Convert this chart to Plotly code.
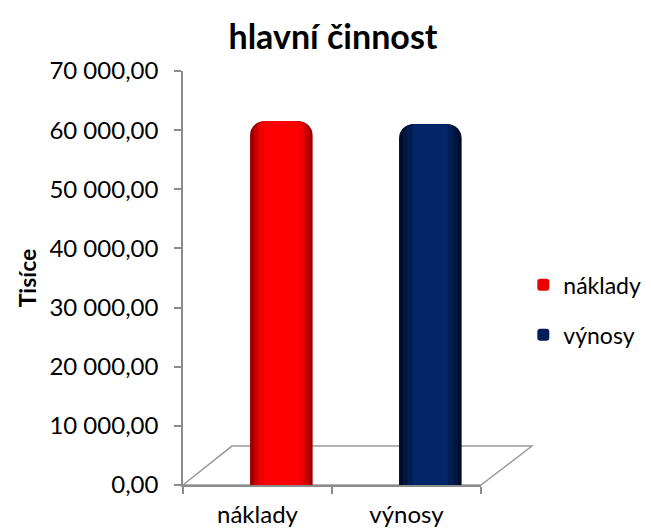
import plotly.graph_objects as go

categories = ["náklady", "výnosy"]
series_names = ["náklady", "výnosy"]
values = [61500, 61000]
y_ticks = [0, 10000, 20000, 30000, 40000, 50000, 60000, 70000]

# shading steps (outer -> inner) to imitate the cylinder look
red_shades = ["#9a0000", "#c80000", "#ec0000", "#ff0000"]
blue_shades = ["#000c2c", "#00163f", "#001d55", "#032669"]
shades = [red_shades, blue_shades]
width_fracs = [1.0, 0.88, 0.74, 0.56]

BAR_W = 0.42
BAR_OFF = -0.05
RADIUS = 14

fig = go.Figure()
for i, name in enumerate(series_names):
    for k, frac in enumerate(width_fracs):
        w = BAR_W * frac
        inset = (BAR_W - w) / 2
        fig.add_trace(go.Bar(
            x=[categories[i]], y=[values[i]], name=name,
            width=w, offset=BAR_OFF + inset,
            marker=dict(color=shades[i][k], line=dict(width=0),
                        cornerradius=max(RADIUS - int(inset * 149), 2)),
            showlegend=(k == 2), legendgroup=name,
            hovertemplate="%{x}: %{y:,.2f}<extra></extra>",
        ))

# page body has an 8px margin; figure is sized to the visible part of the window
fig.update_layout(
    width=643, height=523,
    margin=dict(l=175, r=170, t=63, b=46, autoexpand=False),
    paper_bgcolor="white", plot_bgcolor="white",
    separators=", ",
    barmode="overlay",
    font=dict(family="Lato, Carlito, sans-serif", size=24, color="#000000"),
    title=dict(text="<b>hlavní činnost</b>", x=0.5054, xref="container", xanchor="center",
               y=0.9446, yref="container", yanchor="middle",
               font=dict(size=34, color="#000000")),
    legend=dict(x=1.142, y=0.423, xanchor="left", yanchor="middle",
                font=dict(size=23), tracegroupgap=17, traceorder="grouped",
                itemwidth=30, borderwidth=0, bgcolor="rgba(0,0,0,0)"),
    xaxis=dict(type="category", categoryorder="array", categoryarray=categories,
               range=[-0.5, 1.5], showline=True, linecolor="#8c8c8c", linewidth=1.5,
               ticks="outside", tickson="boundaries", ticklen=7, tickcolor="#8c8c8c",
               tickwidth=1.5, showgrid=False, zeroline=False, automargin=False,
               tickfont=dict(size=24), ticklabelstandoff=7),
    yaxis=dict(range=[0, 70000], tickvals=y_ticks, tickformat=",.2f",
               showline=True, linecolor="#8c8c8c", linewidth=1.5,
               ticks="outside", ticklen=7, tickcolor="#8c8c8c", tickwidth=1.5,
               showgrid=False, zeroline=False, tickfont=dict(size=24),
               ticklabelstandoff=11, automargin=False,
               title=dict(text="<b>Tisíce</b>", font=dict(size=23), standoff=6)),
)

# 3D-like floor under the columns (parallelogram in paper coordinates)
fig.add_shape(type="path", xref="paper", yref="paper",
              path="M 0,0 L 1,0 L 1.171,0.094 L 0.164,0.094 Z",
              line=dict(color="#9a9a9a", width=1.5), fillcolor="rgba(0,0,0,0)",
              layer="below")

fig.write_html("out.html")
